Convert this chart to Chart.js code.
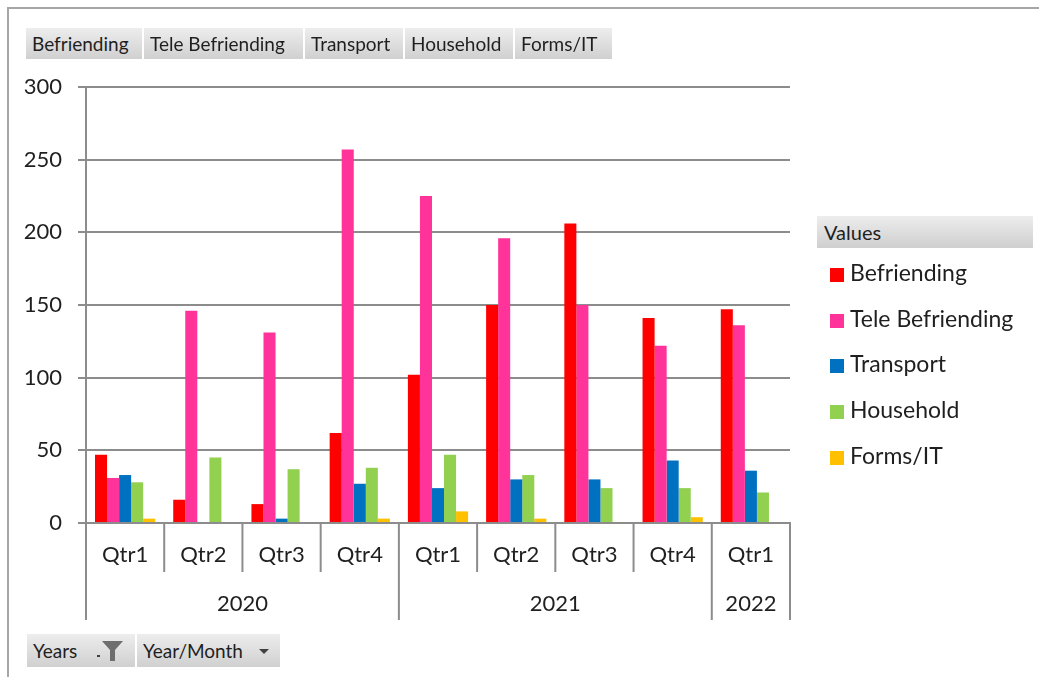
<!DOCTYPE html>
<html>
<head>
<meta charset="utf-8">
<script src="https://cdn.jsdelivr.net/npm/chart.js@4.4.1/dist/chart.umd.min.js"></script>
<style>
  body { margin: 0; background: #fff; font-family: Lato, sans-serif; color: #1f1f1f; }
  #wrap { position: relative; width: 1039px; height: 677px; overflow: hidden; }
  #frame { position: absolute; left: 7px; top: 7px; width: 1100px; height: 700px;
           border-left: 2px solid #a6a6a6; border-top: 2px solid #a6a6a6; }
  canvas { position: absolute; left: 0; top: 0; }
  .btn { position: absolute; height: 31px; line-height: 31px; font-size: 19px; padding-left: 6px;
         box-sizing: border-box; white-space: nowrap; color: #1f1f1f;
         background: linear-gradient(#ededed, #d0d0d0); }
  #values { position: absolute; left: 817px; top: 216px; width: 216px; height: 32px; line-height: 32px;
            padding-left: 7px; box-sizing: border-box; font-size: 20px;
            background: linear-gradient(#ededed, #cfcfcf); }
  .item { position: absolute; left: 830px; height: 30px; line-height: 30px; font-size: 23px; white-space: nowrap; }
  .item span { display: inline-block; width: 14px; height: 14px; margin-right: 6px; vertical-align: -1px; }
  .arrow { position: absolute; width: 0; height: 0; border-left: 5px solid transparent;
           border-right: 5px solid transparent; border-top: 5px solid #404040; }
</style>
</head>
<body>
<div id="wrap">
  <div id="frame"></div>
  <canvas id="chart" width="1039" height="677"></canvas>
  <div id="fieldBtns"></div>
  <div id="values">Values</div>
  <div id="legend"></div>
  <div class="btn" style="left:27px;top:634px;width:108px;height:33px;line-height:33px;">Years</div>
  <svg style="position:absolute;left:94px;top:640px" width="32" height="24">
    <rect x="3" y="15" width="3" height="2" fill="#404040"/>
    <path d="M8 1 L29 1 L21 10 L21 21 L16 21 L16 10 Z" fill="#6e6e6e"/>
  </svg>
  <div class="btn" style="left:137px;top:634px;width:143px;height:33px;line-height:33px;">Year/Month</div>
  <div class="arrow" style="left:259px;top:649px;"></div>
</div>
<script>
// quarters along the axis, with the year each one belongs to
const quarters = ["Qtr1", "Qtr2", "Qtr3", "Qtr4", "Qtr1", "Qtr2", "Qtr3", "Qtr4", "Qtr1"];
const years = ["2020", "2020", "2020", "2020", "2021", "2021", "2021", "2021", "2022"];

const seriesNames = ["Befriending", "Tele Befriending", "Transport", "Household", "Forms/IT"];
const seriesColors = ["#ff0000", "#ff3399", "#0070c0", "#92d050", "#ffc000"];

const befriending = [47, 16, 13, 62, 102, 150, 206, 141, 147];
const teleBefriending = [31, 146, 131, 257, 225, 196, 150, 122, 136];
const transport = [33, null, 3, 27, 24, 30, 30, 43, 36];
const household = [28, 45, 37, 38, 47, 33, 24, 24, 21];
const formsIT = [3, null, null, 3, 8, 3, null, 4, null];

const yTicks = [0, 50, 100, 150, 200, 250, 300];

const lineColor = "#8c8c8c";
const textColor = "#1f1f1f";
const allSeries = [befriending, teleBefriending, transport, household, formsIT];

// field buttons across the top
const btnPos = [[26, 116], [144, 159], [305, 98], [405, 108], [515, 97]];
const fieldBtns = document.getElementById("fieldBtns");
seriesNames.forEach((name, i) => {
  const b = document.createElement("div");
  b.className = "btn";
  b.style.left = btnPos[i][0] + "px";
  b.style.top = "28px";
  b.style.width = btnPos[i][1] + "px";
  b.textContent = name;
  fieldBtns.appendChild(b);
});

// legend on the right
const legend = document.getElementById("legend");
seriesNames.forEach((name, i) => {
  const it = document.createElement("div");
  it.className = "item";
  it.style.top = (257 + i * 45.7) + "px";
  it.innerHTML = '<span style="background:' + seriesColors[i] + '"></span>' + name;
  legend.appendChild(it);
});

// draws the quarter separators and the year row under the axis
const groupAxis = {
  id: "groupAxis",
  afterDraw(chart) {
    const x = chart.scales.x;
    const ctx = chart.ctx;
    const n = quarters.length;
    const step = x.getPixelForValue(1) - x.getPixelForValue(0);
    const base = chart.chartArea.bottom;
    const edge = (i) => x.getPixelForValue(i) - step / 2;
    ctx.save();
    ctx.strokeStyle = lineColor;
    ctx.lineWidth = 2;
    for (let i = 0; i <= n; i++) {
      const yearEdge = i === 0 || i === n || years[i] !== years[i - 1];
      ctx.beginPath();
      ctx.moveTo(edge(i), base);
      ctx.lineTo(edge(i), base + (yearEdge ? 97 : 49));
      ctx.stroke();
    }
    ctx.fillStyle = textColor;
    ctx.font = "22px Lato";
    ctx.textAlign = "center";
    ctx.textBaseline = "middle";
    let start = 0;
    for (let i = 1; i <= n; i++) {
      if (i === n || years[i] !== years[start]) {
        ctx.fillText(years[start], (edge(start) + edge(i)) / 2, base + 81);
        start = i;
      }
    }
    ctx.restore();
  }
};

new Chart(document.getElementById("chart"), {
  type: "bar",
  data: {
    labels: quarters,
    datasets: seriesNames.map((name, i) => ({
      label: name,
      data: allSeries[i],
      backgroundColor: seriesColors[i],
      borderWidth: 0,
      categoryPercentage: 0.77,
      barPercentage: 1.0,
    })),
  },
  options: {
    responsive: false,
    animation: false,
    layout: { padding: { left: 0, top: 87, right: 249, bottom: 54 } },
    plugins: {
      legend: { display: false },
      tooltip: { enabled: false },
    },
    scales: {
      x: {
        afterFit: (scale) => { scale.height = 100; },
        grid: { display: false, drawTicks: false },
        border: { display: true, color: lineColor, width: 2 },
        ticks: {
          color: textColor,
          font: { family: "Lato", size: 22 },
          padding: 19,
          maxRotation: 0,
          autoSkip: false,
        },
      },
      y: {
        min: 0,
        max: 300,
        afterFit: (scale) => { scale.width = 86; },
        afterBuildTicks: (scale) => { scale.ticks = yTicks.map((v) => ({ value: v })); },
        grid: { color: lineColor, lineWidth: 2, tickLength: 8 },
        border: { color: lineColor, width: 2 },
        ticks: {
          color: textColor,
          font: { family: "Lato", size: 22 },
          padding: 16,
        },
      },
    },
  },
  plugins: [groupAxis],
});
</script>
</body>
</html>
